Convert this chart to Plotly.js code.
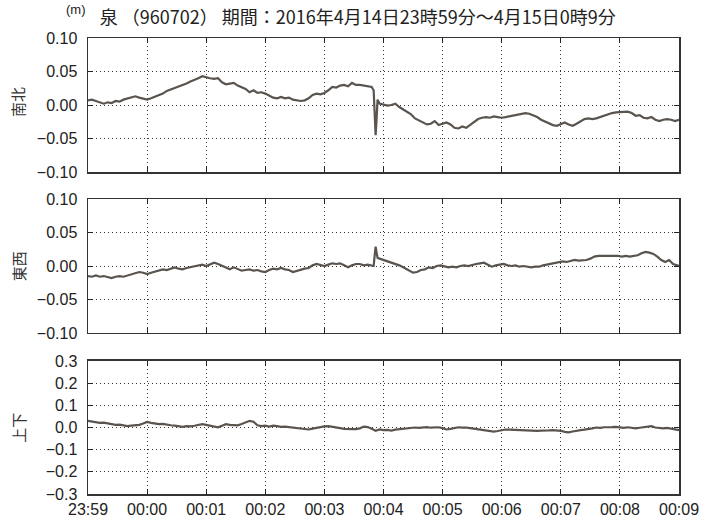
<!DOCTYPE html>
<html>
<head>
<meta charset="utf-8">
<script src="https://cdn.plot.ly/plotly-3.0.1.min.js"></script>
<style>html,body{margin:0;padding:0;background:#fff;}#chart{width:717px;height:518px;}</style>
</head>
<body>
<div id="chart"></div>
<script>
// seconds after 2016-04-14 23:59:00
const xTickVals = [0, 60, 120, 180, 240, 300, 360, 420, 480, 540, 600];
const xTickLabels = ["23:59", "00:00", "00:01", "00:02", "00:03", "00:04", "00:05", "00:06", "00:07", "00:08", "00:09"];

const nsTime = [0,4,8,12,16,20,24,28,32,36,40,44,48,52,56,60,64,68,72,76,80,84,88,92,96,100,104,108,112,116,120,124,128,132,136,140,144,148,152,156,160,164,168,172,176,180,184,188,192,196,200,204,208,212,216,220,224,228,232,236,240,244,248,252,256,260,264,268,272,276,280,284,288,290,291,292,293,294,296,300,304,308,312,316,320,324,328,332,336,340,344,348,352,356,360,364,368,372,376,380,384,388,392,396,400,404,408,412,416,420,424,428,432,436,440,444,448,452,456,460,464,468,472,476,480,484,488,492,496,500,504,508,512,516,520,524,528,532,536,540,544,548,552,556,560,564,568,572,576,580,584,588,592,596,600];
const nsValues = [0.007,0.008,0.006,0.004,0.002,0.004,0.003,0.006,0.005,0.008,0.010,0.011,0.013,0.011,0.010,0.008,0.010,0.012,0.015,0.017,0.021,0.023,0.026,0.027,0.030,0.032,0.035,0.037,0.040,0.043,0.041,0.040,0.039,0.040,0.034,0.031,0.032,0.033,0.029,0.026,0.024,0.019,0.022,0.018,0.019,0.017,0.014,0.011,0.010,0.012,0.010,0.011,0.008,0.007,0.006,0.007,0.010,0.015,0.017,0.016,0.018,0.022,0.027,0.026,0.029,0.030,0.028,0.033,0.030,0.030,0.029,0.028,0.027,0.022,-0.010,-0.045,-0.020,0.008,0.002,0.001,-0.001,0.000,0.002,-0.003,-0.007,-0.010,-0.014,-0.020,-0.023,-0.026,-0.029,-0.028,-0.024,-0.030,-0.028,-0.026,-0.029,-0.034,-0.035,-0.032,-0.034,-0.030,-0.025,-0.021,-0.019,-0.018,-0.019,-0.017,-0.018,-0.019,-0.018,-0.017,-0.016,-0.015,-0.013,-0.012,-0.013,-0.015,-0.018,-0.022,-0.025,-0.028,-0.030,-0.031,-0.029,-0.026,-0.029,-0.031,-0.028,-0.024,-0.021,-0.020,-0.021,-0.020,-0.018,-0.015,-0.013,-0.012,-0.011,-0.011,-0.010,-0.010,-0.012,-0.016,-0.015,-0.019,-0.020,-0.018,-0.022,-0.024,-0.022,-0.021,-0.022,-0.024,-0.022];

const ewTime = [0,4,8,12,16,20,24,28,32,36,40,44,48,52,56,60,64,68,72,76,80,84,88,92,96,100,104,108,112,116,120,124,128,132,136,140,144,148,152,156,160,164,168,172,176,180,184,188,192,196,200,204,208,212,216,220,224,228,232,236,240,244,248,252,256,260,264,268,272,276,280,284,288,290,291,292,293,294,296,300,304,308,312,316,320,324,328,330,334,338,342,346,350,354,358,362,366,370,374,378,382,386,390,394,398,402,406,410,414,418,422,426,430,434,438,442,446,450,454,458,462,466,470,474,478,482,486,490,494,498,502,506,510,514,518,522,526,530,534,538,542,546,550,554,558,562,566,570,574,578,582,586,590,594,598,600];
const ewValues = [-0.015,-0.016,-0.014,-0.016,-0.015,-0.017,-0.018,-0.016,-0.015,-0.016,-0.014,-0.013,-0.011,-0.009,-0.010,-0.012,-0.010,-0.008,-0.007,-0.005,-0.006,-0.004,-0.002,-0.004,-0.005,-0.003,-0.002,-0.001,0.001,0.002,0.000,0.003,0.005,0.003,0.000,-0.003,-0.005,-0.002,-0.004,-0.007,-0.006,-0.005,-0.007,-0.006,-0.008,-0.009,-0.006,-0.004,-0.005,-0.003,-0.005,-0.006,-0.009,-0.007,-0.005,-0.004,-0.003,0.001,0.003,0.001,0.000,0.002,0.004,0.003,0.004,0.001,-0.002,0.001,0.003,0.003,0.001,0.002,0.001,0.000,0.015,0.029,0.020,0.012,0.011,0.009,0.008,0.005,0.003,0.001,-0.002,-0.005,-0.008,-0.010,-0.009,-0.006,-0.005,-0.002,-0.003,0.000,0.001,-0.001,-0.002,-0.001,-0.002,0.000,0.001,0.000,0.002,0.003,0.004,0.005,0.002,-0.001,0.001,0.002,0.003,0.001,0.000,0.001,-0.001,0.000,-0.001,-0.002,-0.001,-0.001,0.001,0.002,0.003,0.004,0.006,0.007,0.006,0.008,0.009,0.008,0.008,0.009,0.011,0.014,0.015,0.015,0.016,0.015,0.016,0.015,0.014,0.015,0.014,0.015,0.016,0.019,0.021,0.020,0.018,0.014,0.009,0.006,0.009,0.003,0.001,0.000];

const udTime = [0,4,8,12,16,20,24,28,32,36,40,44,48,52,56,60,64,68,72,76,80,84,88,92,96,100,104,108,112,116,120,124,128,132,136,140,144,148,152,156,160,164,168,172,176,180,184,188,192,196,200,204,208,212,216,220,224,228,232,236,240,244,248,252,256,260,264,268,272,276,280,284,288,292,296,300,304,308,312,316,320,324,328,332,336,340,344,348,352,356,360,364,368,372,376,380,384,388,392,396,400,404,408,412,416,420,424,428,432,436,440,444,448,452,456,460,464,468,472,476,480,484,488,492,496,500,504,508,512,516,520,524,528,532,536,540,544,548,552,556,560,564,568,572,576,580,584,588,592,596,600];
const udValues = [0.030,0.026,0.024,0.021,0.022,0.018,0.015,0.012,0.013,0.009,0.006,0.008,0.010,0.012,0.018,0.025,0.021,0.018,0.015,0.016,0.012,0.010,0.008,0.005,0.003,0.006,0.005,0.008,0.012,0.015,0.012,0.008,0.002,0.001,0.008,0.015,0.012,0.011,0.010,0.016,0.024,0.030,0.026,0.010,0.006,0.008,0.004,0.008,0.006,0.003,0.004,0.002,0.000,-0.002,-0.004,-0.008,-0.009,-0.005,-0.001,0.002,0.005,0.006,0.002,-0.001,-0.003,-0.006,-0.008,-0.007,-0.007,-0.004,0.004,0.002,-0.006,-0.015,-0.009,-0.012,-0.011,-0.014,-0.010,-0.008,-0.006,-0.005,-0.003,0.000,-0.002,0.000,0.002,-0.001,0.000,0.001,-0.003,-0.009,-0.006,-0.002,0.001,-0.001,0.000,-0.003,-0.006,-0.009,-0.011,-0.014,-0.017,-0.019,-0.016,-0.012,-0.009,-0.010,-0.011,-0.012,-0.011,-0.013,-0.014,-0.013,-0.015,-0.014,-0.012,-0.013,-0.012,-0.012,-0.015,-0.020,-0.022,-0.018,-0.014,-0.012,-0.010,-0.008,-0.004,0.000,-0.002,0.001,0.000,0.002,0.003,0.001,-0.002,0.001,-0.003,-0.004,-0.001,0.002,0.004,0.006,0.000,-0.003,-0.004,-0.002,-0.006,-0.010,-0.012];

const nsTicks = [-0.10, -0.05, 0.00, 0.05, 0.10];
const ewTicks = [-0.10, -0.05, 0.00, 0.05, 0.10];
const udTicks = [-0.3, -0.2, -0.1, 0.0, 0.1, 0.2, 0.3];

const titleText = "泉 （960702） 期間：2016年4月14日23時59分～4月15日0時9分";
const panelNames = ["南北", "東西", "上下"];

const lineColor = "#5a544f";
const tickFont = {family: "Liberation Sans, Arial, sans-serif", size: 16, color: "#222"};

function xAxis(anchor, showLabels) {
  return {
    anchor: anchor, range: [0, 600], tickvals: xTickVals, ticktext: xTickLabels,
    showticklabels: showLabels, ticks: "inside", ticklen: 5, tickwidth: 1, tickcolor: "#222",
    showline: true, linecolor: "#333", linewidth: 1.5, mirror: "ticks",
    showgrid: true, gridcolor: "#333", griddash: "1px,3px", gridwidth: 1, zeroline: false,
    tickfont: tickFont, fixedrange: true
  };
}
function yAxis(anchor, domain, ticks, fmt) {
  return {
    anchor: anchor, domain: domain, range: [ticks[0], ticks[ticks.length - 1]],
    tickvals: ticks, tickformat: fmt, ticks: "inside", ticklen: 5, tickwidth: 1, tickcolor: "#222",
    showline: true, linecolor: "#333", linewidth: 1.5, mirror: "ticks",
    showgrid: true, gridcolor: "#333", griddash: "1px,3px", gridwidth: 1, zeroline: false,
    tickfont: tickFont, ticklabelstandoff: 6, fixedrange: true
  };
}

const traces = [
  {x: nsTime, y: nsValues, xaxis: "x", yaxis: "y", type: "scatter", mode: "lines", line: {color: lineColor, width: 2.2}, hoverinfo: "skip"},
  {x: ewTime, y: ewValues, xaxis: "x2", yaxis: "y2", type: "scatter", mode: "lines", line: {color: lineColor, width: 2.2}, hoverinfo: "skip"},
  {x: udTime, y: udValues, xaxis: "x3", yaxis: "y3", type: "scatter", mode: "lines", line: {color: lineColor, width: 2.2}, hoverinfo: "skip"}
];

const cjk = "Noto Sans CJK JP, sans-serif";
const layout = {
  width: 717, height: 518,
  margin: {l: 88, r: 38, t: 38, b: 24},
  paper_bgcolor: "#fff", plot_bgcolor: "#fff",
  showlegend: false,
  title: {text: titleText, font: {family: cjk, size: 18, color: "#222"},
          xref: "paper", x: 0.02, xanchor: "left", yref: "container", y: 1 - 18 / 518, yanchor: "middle"},
  xaxis: xAxis("y", false),
  xaxis2: xAxis("y2", false),
  xaxis3: xAxis("y3", true),
  yaxis: yAxis("x", [0.7061, 1], nsTicks, ".2f"),
  yaxis2: yAxis("x2", [0.3531, 0.6469], ewTicks, ".2f"),
  yaxis3: yAxis("x3", [0, 0.2917], udTicks, ".1f"),
  annotations: [
    {text: "(m)", xref: "paper", yref: "paper", x: 0, y: 1, xanchor: "right", yanchor: "bottom", yshift: 19, showarrow: false, font: {family: "Liberation Sans, Arial, sans-serif", size: 13, color: "#222"}},
    {text: panelNames[0], xref: "paper", yref: "paper", x: -0.118, y: 0.86, xanchor: "center", yanchor: "middle", textangle: -90, showarrow: false, font: {family: cjk, size: 15, color: "#333"}},
    {text: panelNames[1], xref: "paper", yref: "paper", x: -0.118, y: 0.5, xanchor: "center", yanchor: "middle", textangle: -90, showarrow: false, font: {family: cjk, size: 15, color: "#333"}},
    {text: panelNames[2], xref: "paper", yref: "paper", x: -0.118, y: 0.146, xanchor: "center", yanchor: "middle", textangle: -90, showarrow: false, font: {family: cjk, size: 15, color: "#333"}}
  ]
};

Plotly.newPlot("chart", traces, layout, {staticPlot: true, displayModeBar: false});
</script>
</body>
</html>
